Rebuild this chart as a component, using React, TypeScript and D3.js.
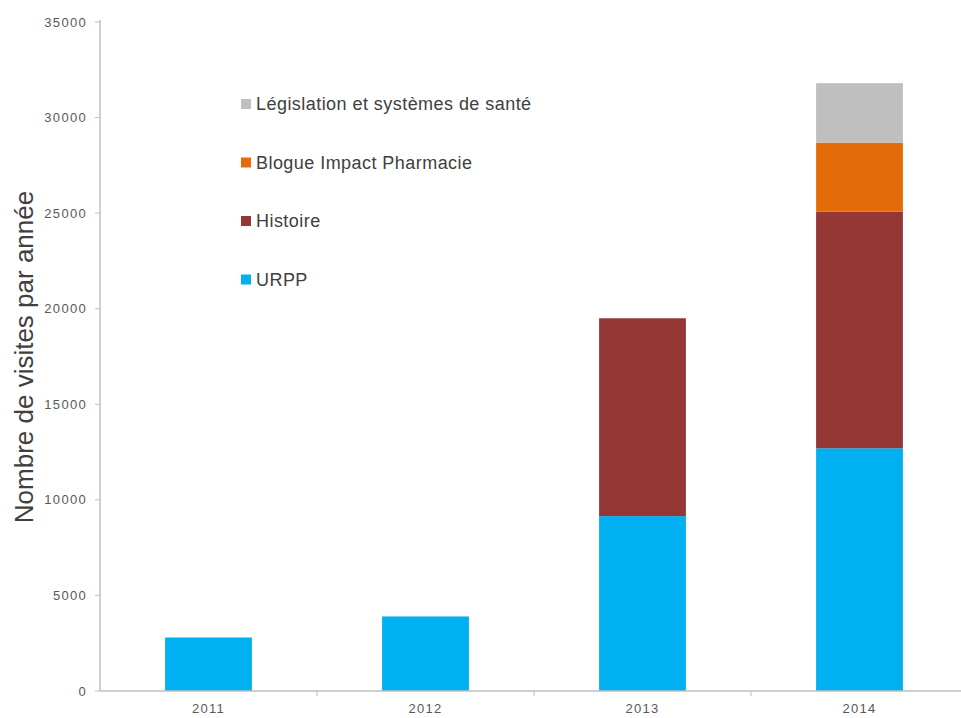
import React from 'react';
import * as d3 from 'd3';

const years = ['2011', '2012', '2013', '2014'];
const seriesNames = ['URPP', 'Histoire', 'Blogue Impact Pharmacie', 'Législation et systèmes de santé'];
const seriesColors = ['#00B0F0', '#953735', '#E36C09', '#BFBFBF'];
const urpp = [2800, 3900, 9150, 12700];
const histoire = [0, 0, 10350, 12380];
const blogue = [0, 0, 0, 3610];
const legislation = [0, 0, 0, 3110];
const yTicks = [0, 5000, 10000, 15000, 20000, 25000, 30000, 35000];

const W = 961;
const H = 718;
const margin = { top: 22, right: -7, bottom: 27, left: 100 };

const App: React.FC = () => {
  const x = d3.scaleBand<string>()
    .domain(years)
    .range([margin.left, W - margin.right])
    .paddingInner(0.6)
    .paddingOuter(0.3);

  const y = d3.scaleLinear()
    .domain([0, 35000])
    .range([H - margin.bottom, margin.top]);

  const rows = years.map((yr, i) => ({
    year: yr,
    URPP: urpp[i],
    Histoire: histoire[i],
    'Blogue Impact Pharmacie': blogue[i],
    'Législation et systèmes de santé': legislation[i],
  }));

  const stacked = d3.stack<any>().keys(seriesNames)(rows);

  const y0 = y(0);
  const step = x.step();
  // category boundary ticks on the x axis
  const boundaries = years.slice(1).map(yr => (x(yr) as number) - step * 0.3);

  const font = '"Liberation Sans", Arial, sans-serif';

  return (
    <svg width={W} height={H} style={{ position: 'absolute', left: 0, top: 0, background: '#fff' }}>
      {/* bars */}
      {stacked.map((layer, si) => (
        <g key={layer.key} fill={seriesColors[si]}>
          {layer.map((d, i) => (d[1] - d[0] > 0 ? (
            <rect
              key={i}
              x={x(years[i])}
              y={y(d[1])}
              width={x.bandwidth()}
              height={y(d[0]) - y(d[1])}
            />
          ) : null))}
        </g>
      ))}

      {/* y axis */}
      <line x1={margin.left} x2={margin.left} y1={margin.top - 2} y2={y0} stroke="#BFBFBF" strokeWidth={1.5} />
      {yTicks.map(t => (
        <g key={t} transform={`translate(0,${y(t)})`}>
          <line x1={margin.left - 5} x2={margin.left} stroke="#BFBFBF" strokeWidth={1} />
          <text x={margin.left - 13} dy="0.35em" textAnchor="end" fontFamily={font} fontSize={13}
            letterSpacing={1.3} fill="#595959">
            {t}
          </text>
        </g>
      ))}

      {/* x axis */}
      <line x1={margin.left} x2={W} y1={y0} y2={y0} stroke="#BFBFBF" strokeWidth={1.5} />
      {boundaries.map((bx, i) => (
        <line key={i} x1={bx} x2={bx} y1={y0} y2={y0 + 5} stroke="#BFBFBF" strokeWidth={1} />
      ))}
      {years.map(yr => (
        <text
          key={yr}
          x={(x(yr) as number) + x.bandwidth() / 2}
          y={y0 + 22}
          textAnchor="middle"
          fontFamily={font}
          fontSize={13}
          letterSpacing={1.3}
          fill="#595959"
        >
          {yr}
        </text>
      ))}

      {/* y axis title */}
      <text
        transform={`translate(33,${357}) rotate(-90)`}
        textAnchor="middle"
        fontFamily={font}
        fontSize={26}
        fill="#404040"
      >
        Nombre de visites par année
      </text>

      {/* legend */}
      {seriesNames.slice().reverse().map((name, i) => {
        const color = seriesColors[seriesNames.length - 1 - i];
        const ly = 104 + i * 58.5;
        return (
          <g key={name} transform={`translate(241,${ly})`}>
            <rect x={0} y={-5} width={10} height={10} fill={color} />
            <text x={15} dy="0.36em" fontFamily={font} fontSize={18} letterSpacing={0.45} fill="#404040">
              {name}
            </text>
          </g>
        );
      })}
    </svg>
  );
};

export default App;
